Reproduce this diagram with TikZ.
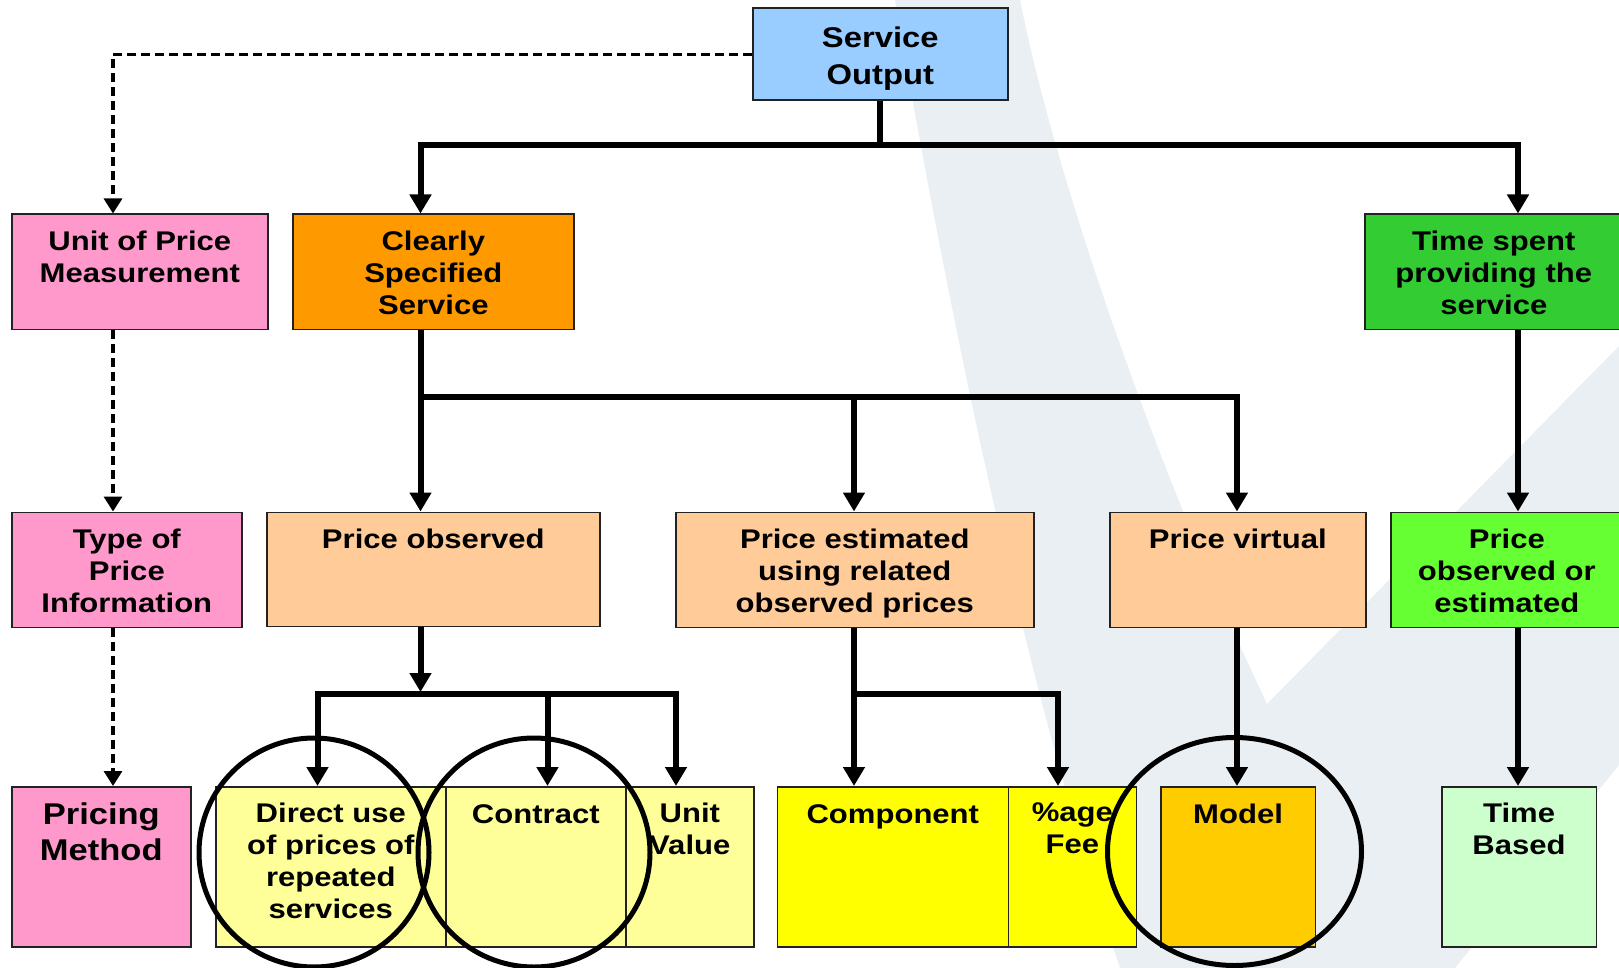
\documentclass[tikz,border=0pt]{standalone}
\usepackage{fontspec}
\setmainfont{Liberation Sans}[FakeStretch=1.15]
\usetikzlibrary{arrows.meta}
\definecolor{cSvc}{HTML}{99CCFF}
\definecolor{cPink}{HTML}{FF99CC}
\definecolor{cOrange}{HTML}{FF9900}
\definecolor{cGreen}{HTML}{33CC33}
\definecolor{cPeach}{HTML}{FFCC99}
\definecolor{cLime}{HTML}{66FF33}
\definecolor{cLtYel}{HTML}{FFFF99}
\definecolor{cYel}{HTML}{FFFF00}
\definecolor{cAmber}{HTML}{FFCC00}
\definecolor{cMint}{HTML}{CCFFCC}
\definecolor{cWm}{HTML}{EAEFF3}
\definecolor{cBorder}{HTML}{222222}
\begin{document}
\begin{tikzpicture}[x=1pt,y=-1pt,
  box/.style={draw=cBorder, line width=1.6pt, inner sep=0pt, anchor=north west},
  lbl/.style={anchor=north, inner sep=0pt, align=center, font=\bfseries\fontsize{27}{32}\selectfont},
  lblsvc/.style={lbl, font=\bfseries\fontsize{28.5}{37}\selectfont},
  lblpm/.style={lbl, font=\bfseries\fontsize{30}{36}\selectfont},
  con/.style={line width=6pt},
  arr/.style={line width=6pt, -{Triangle[width=21pt,length=19pt]}},
  arrb/.style={line width=6pt, {Triangle[width=21pt,length=19pt]}-{Triangle[width=21pt,length=19pt]}},
  dsh/.style={line width=3.2pt, dash pattern=on 9pt off 5pt, -{Triangle[width=18pt,length=15pt]}},
  ring/.style={draw=black, line width=5pt},
]
\useasboundingbox (0,0) rectangle (1619,968);
% watermark
\fill[cWm] (895,0) -- (1020,0) .. controls (1060,200) and (1170,500) .. (1267,704)
  -- (1619,346) -- (1619,765) -- (1455,968) -- (1120,968)
  .. controls (1030,700) and (955,350) .. (895,0) -- cycle;

% boxes
\node[box, fill=cSvc,    minimum width=255pt, minimum height=92pt]  (svc)   at (752,7.5) {};
\node[box, fill=cPink,   minimum width=256pt, minimum height=115pt] (unit)  at (11,213.5) {};
\node[box, fill=cOrange, minimum width=281pt, minimum height=115pt] (css)   at (292,213.5) {};
\node[box, fill=cGreen,  minimum width=258pt, minimum height=115pt] (tsp)   at (1364,213.5) {};
\node[box, fill=cPink,   minimum width=230pt, minimum height=115pt] (type)  at (11,511.5) {};
\node[box, fill=cPeach,  minimum width=333pt, minimum height=114pt] (pobs)  at (266,511.5) {};
\node[box, fill=cPeach,  minimum width=358pt, minimum height=115pt] (pest)  at (675,511.5) {};
\node[box, fill=cPeach,  minimum width=256pt, minimum height=115pt] (pvir)  at (1109,511.5) {};
\node[box, fill=cLime,   minimum width=232pt, minimum height=115pt] (poe)   at (1390,511.5) {};
\node[box, fill=cPink,   minimum width=179pt, minimum height=160pt] (pm)    at (11,786) {};
\node[box, fill=cLtYel,  minimum width=230pt, minimum height=160pt] (du)    at (215,786) {};
\node[box, fill=cLtYel,  minimum width=180pt, minimum height=160pt] (ctr)   at (445,786) {};
\node[box, fill=cLtYel,  minimum width=128pt, minimum height=160pt] (uv)    at (625,786) {};
\node[box, fill=cYel,    minimum width=231pt, minimum height=160pt] (comp)  at (776.5,786) {};
\node[box, fill=cYel,    minimum width=128pt, minimum height=160pt] (fee)   at (1007.5,786) {};
\node[box, fill=cAmber,  minimum width=154.5pt, minimum height=160pt] (model) at (1160,786) {};
\node[box, fill=cMint,   minimum width=154.5pt, minimum height=160pt] (tb)    at (1441,786) {};

% labels
\node[lblsvc] (svc-t)   at ([yshift=-19pt]svc.north)   {Service\\Output};
\node[lbl]    (unit-t)  at ([yshift=-17pt]unit.north)  {Unit of Price\\Measurement};
\node[lbl]    (css-t)   at ([yshift=-17pt]css.north)   {Clearly\\Specified\\Service};
\node[lbl]    (tsp-t)   at ([yshift=-17pt]tsp.north)   {Time spent\\providing the\\service};
\node[lbl]    (type-t)  at ([yshift=-17pt]type.north)  {Type of\\Price\\Information};
\node[lbl]    (pobs-t)  at ([yshift=-17pt]pobs.north)  {Price observed};
\node[lbl]    (pest-t)  at ([yshift=-17pt]pest.north)  {Price estimated\\using related\\observed prices};
\node[lbl]    (pvir-t)  at ([yshift=-17pt]pvir.north)  {Price virtual};
\node[lbl]    (poe-t)   at ([yshift=-17pt]poe.north)   {Price\\observed or\\estimated};
\node[lblpm]  (pm-t)    at ([yshift=-17pt]pm.north)    {Pricing\\Method};
\node[lbl]    (du-t)    at ([yshift=-17pt]du.north)    {Direct use\\of prices of\\repeated\\services};
\node[lbl]    (ctr-t)   at ([yshift=-18pt]ctr.north)   {Contract};
\node[lbl]    (uv-t)    at ([yshift=-17pt]uv.north)    {Unit\\Value};
\node[lbl]    (comp-t)  at ([yshift=-18pt]comp.north)  {Component};
\node[lbl]    (fee-t)   at ([yshift=-17pt]fee.north)   {\%age\\Fee};
\node[lbl]    (model-t) at ([yshift=-18pt]model.north) {Model};
\node[lbl]    (tb-t)    at ([yshift=-17pt]tb.north)    {Time\\Based};

% connector columns and junctions
\coordinate (xD) at (113,0);
\coordinate (xL) at (420.5,0);
\coordinate (xM) at (854,0);
\coordinate (xV) at (1237,0);
\coordinate (xT) at (1518,0);
\coordinate (xDu) at (317.5,0);
\coordinate (xC) at (547.5,0);
\coordinate (xU) at (676,0);
\coordinate (xF) at (1058,0);
\coordinate (j1) at (879,145.5);
\coordinate (j2) at (420.5,397);
\coordinate (j3) at (420.5,694);
\coordinate (j4) at (854,694);

% dashed
\draw[dsh] (svc.west) -| (xD |- unit.north);
\draw[dsh] (unit.south -| xD) -- (type.north -| xD);
\draw[dsh] (type.south -| xD) -- (pm.north -| xD);

% solid
\draw[con] (svc.south) -- (svc.south |- j1);
\draw[arrb] (xL |- css.north) -- (xL |- j1) -- (xT |- j1) -- (xT |- tsp.north);
\draw[arr] (css.south -| xL) -- (xL |- pobs.north);
\draw[arr] (xL |- j2) -- (xV |- j2) -- (xV |- pvir.north);
\draw[arr] (xM |- j2) -- (xM |- pest.north);
\draw[arr] (tsp.south -| xT) -- (xT |- poe.north);
\draw[arr] (poe.south -| xT) -- (xT |- tb.north);
\draw[arr] (pobs.south -| xL) -- ([yshift=2pt]j3);
\draw[arrb] (xDu |- du.north) -- (xDu |- j3) -- (xU |- j3) -- (xU |- uv.north);
\draw[arr] (xC |- j3) -- (xC |- ctr.north);
\draw[arr] (pest.south -| xM) -- (xM |- comp.north);
\draw[arr] (j4) -- (xF |- j4) -- (xF |- fee.north);
\draw[arr] (pvir.south -| xV) -- (xV |- model.north);

% rings
\draw[ring] (314,852.5) ellipse [x radius=115pt, y radius=114.5pt];
\draw[ring] (534,852.5) ellipse [x radius=116pt, y radius=114.5pt];
\draw[ring] (1234.5,851.5) ellipse [x radius=127pt, y radius=114pt];
\end{tikzpicture}
\end{document}
